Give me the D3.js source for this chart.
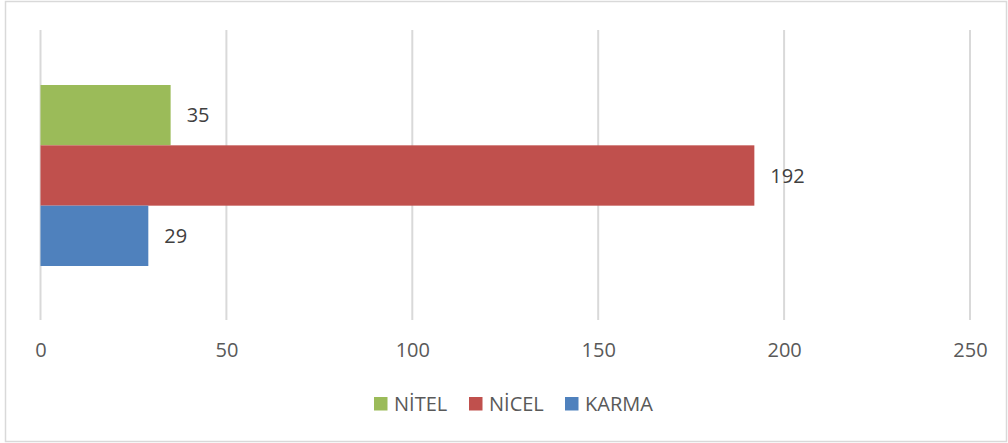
<!DOCTYPE html>
<html>
<head>
<meta charset="utf-8">
<script src="https://cdn.jsdelivr.net/npm/d3@7"></script>
<style>
  html, body { margin: 0; padding: 0; background: #fff; }
  svg { display: block; font-family: "Open Sans", sans-serif; }
</style>
</head>
<body>
<svg id="chart" width="1008" height="443"></svg>
<script>
// Research method counts
const seriesNames = ["NİTEL", "NİCEL", "KARMA"];
const seriesValues = [35, 192, 29];
const seriesColors = ["#9BBB59", "#C0504D", "#4F81BD"];
const xTicks = [0, 50, 100, 150, 200, 250];

const svg = d3.select("#chart");
const W = 1008, H = 443;

// outer chart frame
svg.append("rect")
  .attr("x", 5.5).attr("y", 1.5)
  .attr("width", W - 7).attr("height", H - 3)
  .attr("fill", "#fff")
  .attr("stroke", "#d9d9d9").attr("stroke-width", 1.5);

const plot = { left: 40.5, right: 970, top: 30, bottom: 320 };

const x = d3.scaleLinear().domain([0, 250]).range([plot.left, plot.right]);
const y = d3.scaleBand().domain(seriesNames).range([85, 266]).padding(0);

// vertical gridlines
svg.append("g")
  .selectAll("line")
  .data(xTicks)
  .join("line")
  .attr("x1", d => x(d)).attr("x2", d => x(d))
  .attr("y1", plot.top).attr("y2", plot.bottom)
  .attr("stroke", "#d9d9d9").attr("stroke-width", 2);

// tick labels via axis
const axis = d3.axisBottom(x).tickValues(xTicks).tickSize(0).tickPadding(0);
const gAxis = svg.append("g").attr("transform", `translate(0, 350)`).call(axis);
gAxis.select(".domain").remove();
gAxis.selectAll("text")
  .attr("dy", "0.35em")
  .attr("font-family", "Open Sans, sans-serif")
  .attr("font-size", 20)
  .attr("fill", "#595959");

// bars
const data = seriesNames.map((n, i) => ({ name: n, value: seriesValues[i], color: seriesColors[i] }));
svg.append("g")
  .selectAll("rect")
  .data(data)
  .join("rect")
  .attr("x", x(0))
  .attr("y", d => y(d.name))
  .attr("width", d => x(d.value) - x(0))
  .attr("height", y.bandwidth())
  .attr("fill", d => d.color);

// value labels
svg.append("g")
  .selectAll("text")
  .data(data)
  .join("text")
  .attr("x", d => x(d.value) + 16)
  .attr("y", d => y(d.name) + y.bandwidth() / 2)
  .attr("dy", "0.35em")
  .attr("font-size", 20)
  .attr("fill", "#404040")
  .text(d => d.value);

// legend
const legendX = [374, 469, 565];
const legend = svg.append("g")
  .selectAll("g")
  .data(data)
  .join("g")
  .attr("transform", (d, i) => `translate(${legendX[i]}, 397)`);
legend.append("rect")
  .attr("width", 13.5).attr("height", 13.5)
  .attr("fill", d => d.color);
legend.append("text")
  .attr("x", 20).attr("y", 7)
  .attr("dy", "0.35em")
  .attr("font-size", 20)
  .attr("fill", "#595959")
  .text(d => d.name);
</script>
</body>
</html>
